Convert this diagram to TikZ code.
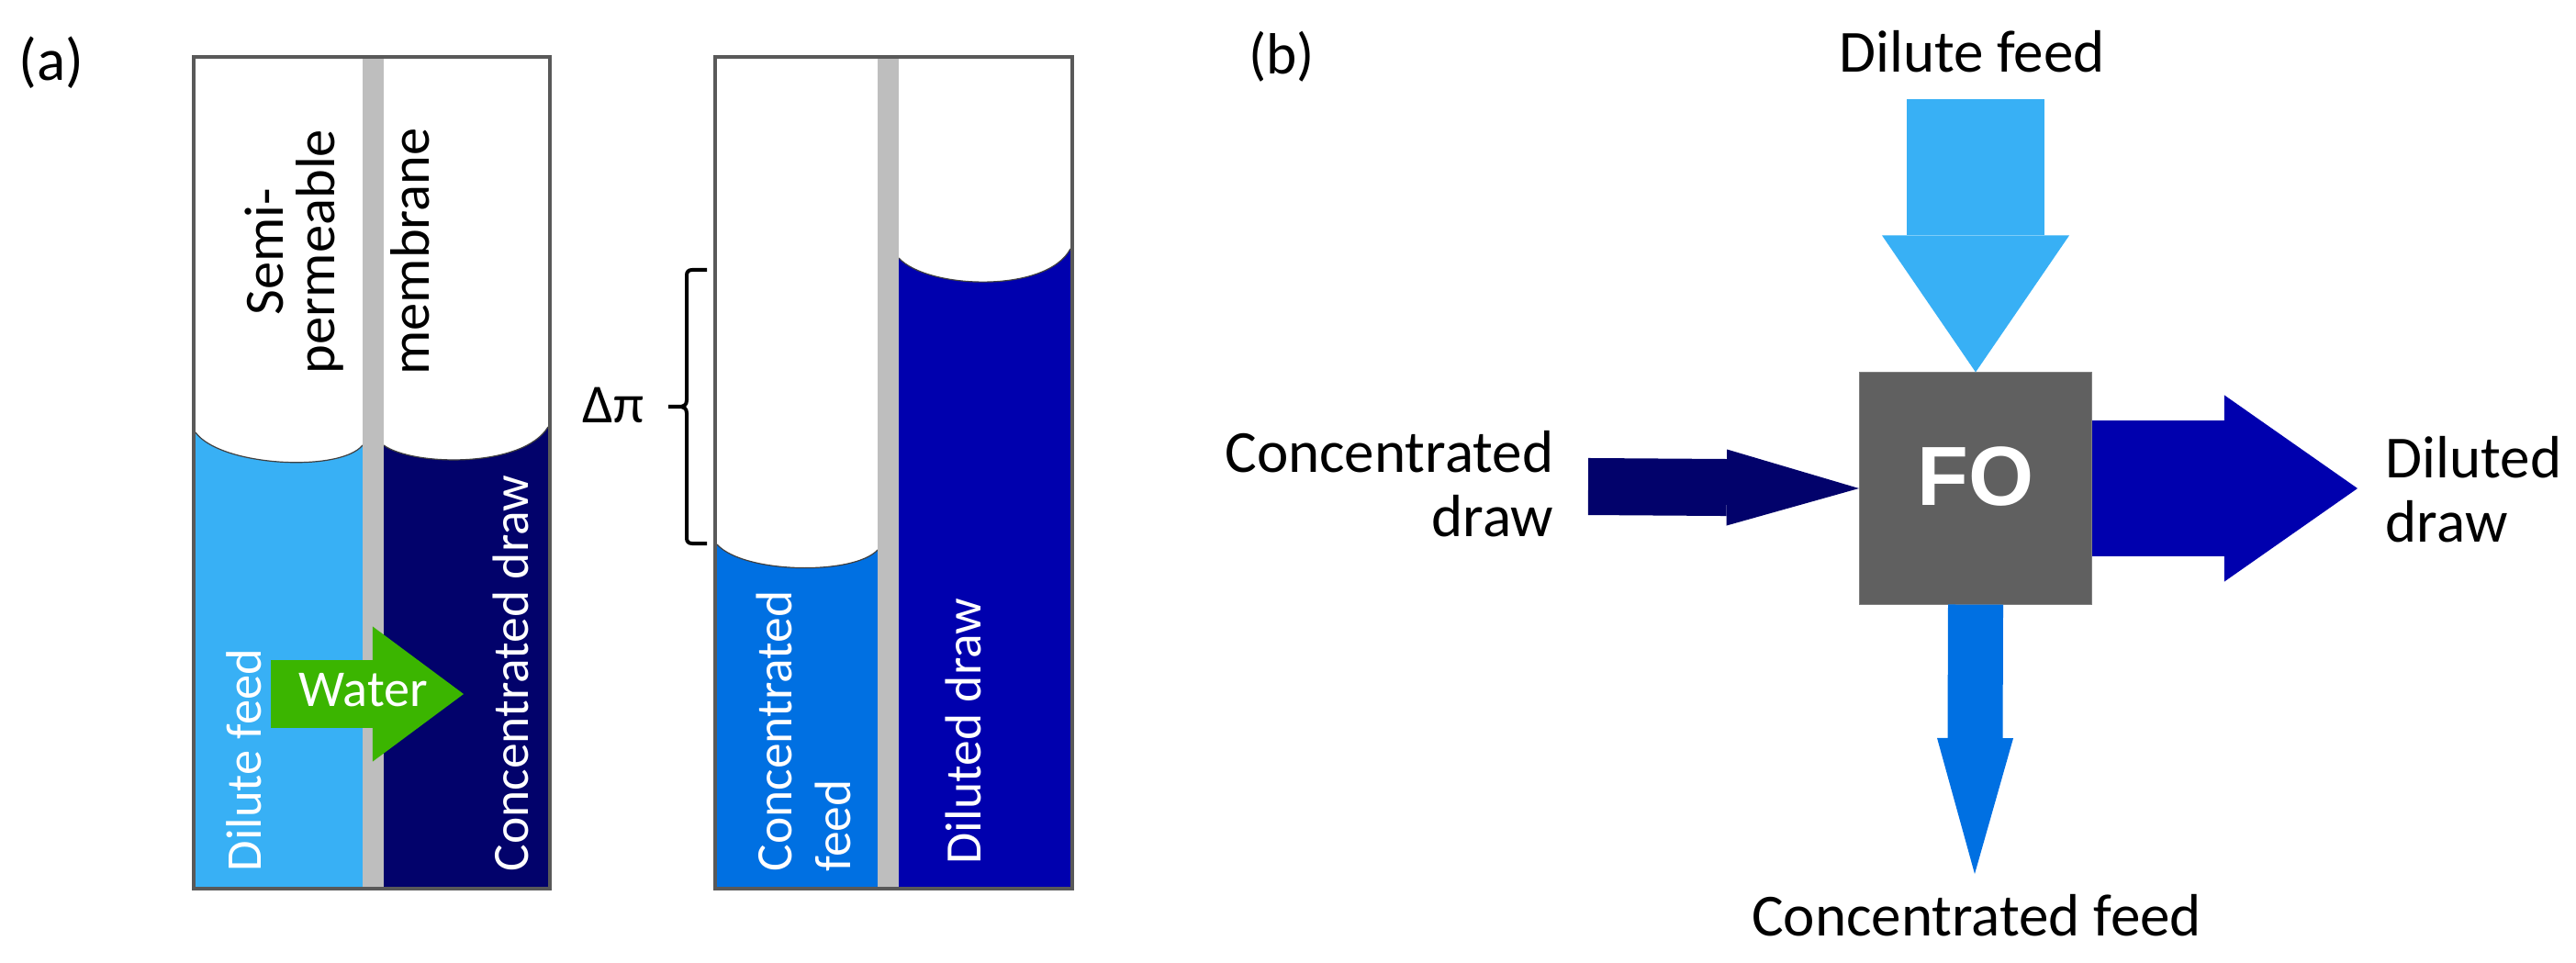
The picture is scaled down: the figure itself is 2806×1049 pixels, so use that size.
\documentclass[tikz,border=0pt]{standalone}
\usepackage{fontspec}
\setmainfont{Carlito}
\newfontfamily\fofont{Liberation Sans}
\usetikzlibrary{arrows.meta}
\definecolor{dilutefeed}{HTML}{38B0F5}
\definecolor{concdraw}{HTML}{02026B}
\definecolor{concfeed}{HTML}{0070E2}
\definecolor{dilutedraw}{HTML}{0000AE}
\definecolor{membrane}{HTML}{BEBEBE}
\definecolor{boxedge}{HTML}{595959}
\definecolor{water}{HTML}{3BB500}
\definecolor{fogray}{HTML}{606060}
\tikzset{
  tube/.style={draw=boxedge,line width=.035cm},
  level/.style={draw=black!75,line width=.012cm},
  sidetext/.style={rotate=90,font=\fontsize{17.2}{19}\selectfont},
  inliquid/.style={rotate=90,font=\fontsize{15.8}{19}\selectfont,anchor=west,text=white,inner sep=0pt},
  flowtext/.style={font=\fontsize{18.5}{20}\selectfont,inner sep=0pt},
  flowline/.style={line cap=butt},
}
\begin{document}
\begin{tikzpicture}[x=.01cm,y=-.01cm]
  \useasboundingbox (0,0) rectangle (2806,1049);
  \fill[dilutefeed] (213,471) .. controls (240,508) and (370,515) .. (395,485) -- (395,966) -- (213,966) -- cycle;
  \fill[concdraw] (418,485) .. controls (450,508) and (570,510) .. (597,465) -- (597,966) -- (418,966) -- cycle;
  \draw[level] (213,471) .. controls (240,508) and (370,515) .. (395,485);
  \draw[level] (418,485) .. controls (450,508) and (570,510) .. (597,465);
  \fill[membrane] (395,64) rectangle (418,966);
  \draw[tube] (211,62) rectangle (599,968);
  \fill[concfeed] (781,593) .. controls (810,625) and (930,627) .. (956,599) -- (956,966) -- (781,966) -- cycle;
  \fill[dilutedraw] (979,281) .. controls (1010,315) and (1140,320) .. (1166,271) -- (1166,966) -- (979,966) -- cycle;
  \draw[level] (781,593) .. controls (810,625) and (930,627) .. (956,599);
  \draw[level] (979,281) .. controls (1010,315) and (1140,320) .. (1166,271);
  \fill[membrane] (956,64) rectangle (979,966);
  \draw[tube] (779,62) rectangle (1168,968);
  \draw[line width=.04cm] (770,294) -- (754,294) .. controls (750,294) and (748,296) .. (748,300) -- (748,436) .. controls (748,441) and (745,443) .. (740,443) -- (728,443);
  \draw[line width=.04cm] (770,592) -- (754,592) .. controls (750,592) and (748,590) .. (748,586) -- (748,450) .. controls (748,445) and (745,443) .. (740,443);
  \coordinate (waterin) at (295,756);
  \coordinate (waterout) at (505,756);
  \draw[flowline,water,line width=.73cm,-{Triangle[length=.99cm,width=1.47cm,line width=0pt]}] (waterin) -- (waterout);
  \node[text=white,font=\fontsize{16}{19}\selectfont] (waterlabel) at (396,752) {Water};
  \node (alabel) at (56,68) [font=\fontsize{18.5}{20}\selectfont] {(a)};
  \node[sidetext] (semi) at (288,274) {Semi-};
  \node[sidetext] (permeable) at (348,274) {permeable};
  \node[sidetext] (membr) at (447,274) {membrane};
  \node[inliquid,font=\fontsize{15.5}{19}\selectfont] (dilutea) at (266,950) {Dilute feed};
  \node[inliquid] (concdrawa) at (556,950) {Concentrated draw};
  \node[inliquid] (concfeeda) at (843,950) {Concentrated};
  \node[inliquid] (feeda) at (907,950) {feed};
  \node[inliquid] (dilutedrawa) at (1049,942) {Diluted draw};
  \node (deltapi) at (668,441) [font=\fontsize{17}{20}\selectfont] {Δπ};
  \node (blabel) at (1396,62) [font=\fontsize{18}{20}\selectfont] {(b)};
  \node[fill=fogray,draw=gray,line width=.01cm,text=white,inner sep=0pt,minimum width=2.53cm,minimum height=2.52cm,text depth=.26cm,font=\fofont\bfseries\fontsize{26}{30}\selectfont] (fo) at (2152,532) {FO};
  \node[flowtext] (dilutelabel) at (2148,56) {Dilute feed};
  \node[flowtext] (conclabel) at (2153,997) {Concentrated feed};
  \node[flowtext,align=right,anchor=east] (drawlabel) at (1693,527) {Concentrated\\draw};
  \node[flowtext,align=left,anchor=west] (dilutedlabel) at (2598,533) {Diluted\\draw};
  \coordinate (feedin) at (2152,108);
  \coordinate (drawin) at (1730,530);
  \coordinate (drawout) at (2568,532);
  \coordinate (feedout) at (2151,952);
  \draw[flowline,dilutefeed,line width=1.5cm,-{Triangle[length=1.49cm,width=2.04cm,line width=0pt]}] (feedin) -- (fo.north);
  \draw[flowline,concdraw,line width=.62cm,-{Triangle[length=1.44cm,width=.83cm,line width=0pt]}] (drawin) -- (fo.west);
  \draw[flowline,dilutedraw,line width=1.48cm,-{Triangle[length=1.45cm,width=2.03cm,line width=0pt]}] (fo.east) -- (drawout);
  \draw[flowline,concfeed,line width=.6cm,-{Triangle[length=1.48cm,width=.83cm,line width=0pt]}] (fo.south) -- (feedout);
\end{tikzpicture}
\end{document}
